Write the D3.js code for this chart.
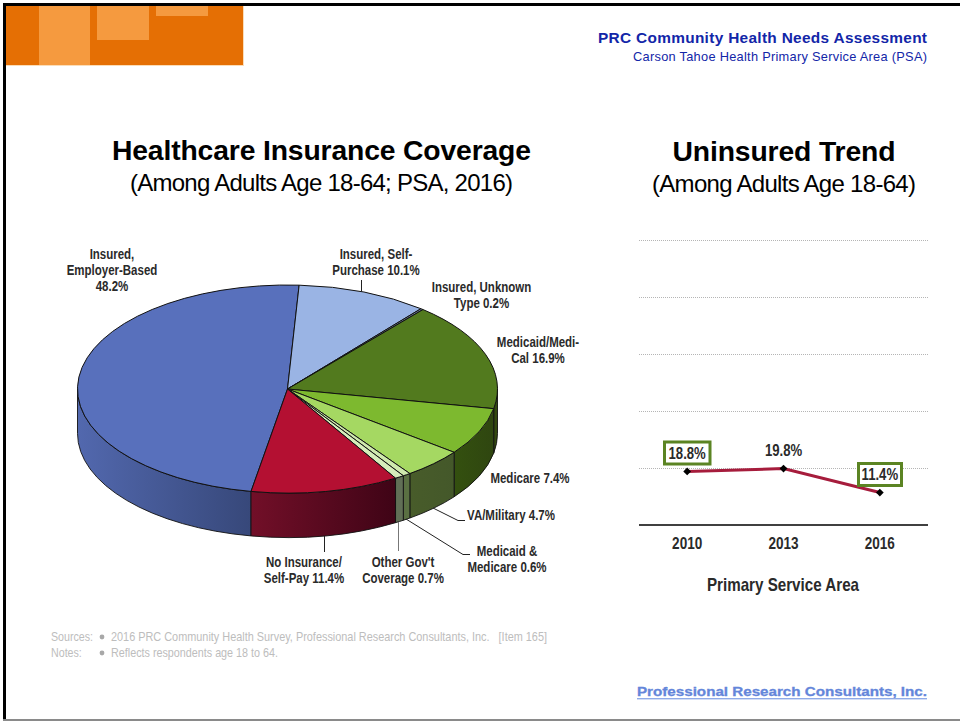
<!DOCTYPE html>
<html><head><meta charset="utf-8">
<script src="https://cdn.jsdelivr.net/npm/d3@7"></script>
<style>html,body{margin:0;padding:0;background:#fff;overflow:hidden}svg{display:block}</style>
</head><body><svg id="c" width="960" height="721"></svg>
<script>
// ---- data ----
const pieNames = ["Insured, Employer-Based","Insured, Self-Purchase","Insured, Unknown Type","Medicaid/Medi-Cal","Medicare","VA/Military","Medicaid & Medicare","Other Gov't Coverage","No Insurance/Self-Pay"];
const pieValues = [48.2,10.1,0.2,16.9,7.4,4.7,0.6,0.7,11.4];
const pieLabelLines = [["Insured,","Employer-Based","48.2%"],["Insured, Self-","Purchase 10.1%"],["Insured, Unknown","Type 0.2%"],["Medicaid/Medi-","Cal 16.9%"],["Medicare 7.4%"],["VA/Military 4.7%"],["Medicaid &","Medicare 0.6%"],["Other Gov't","Coverage 0.7%"],["No Insurance/","Self-Pay 11.4%"]];
const trendYears = ["2010","2013","2016"];
const trendValues = [18.8,19.8,11.4];
const trendTicks = [0,20,40,60,80,100];

// ---- styles and layout ----
const topColors = ["#5870BC","#9AB4E4","#6F80A0","#527A1E","#7DB92F","#A5D862","#CFE9AE","#D6EDBA","#B41032"];
const wallFrom = ["#5268AE","#8FA5D0","#5F6F85","#33480F","#34500F","#485C2A","#5A7042","#616F56","#720F28"];
const wallTo = ["#37487A","#8FA5D0","#5F6F85","#33480F","#2F4610","#44582A","#5A7042","#616F56","#3F0416"];
const labelPos = [[112,259],[376,259],[481.5,292],[538,347],[530,483],[511,520],[507,556],[403,567],[304,567]];
const leaders = [
  {d:[[361.5,280],[361.5,292]],c:"#222"},
  {d:[[324.5,536],[324.5,552]],c:"#222"},
  {d:[[398.5,522],[398.5,551]],c:"#777"},
  {d:[[406,519],[463,554.5],[470,554.5]],c:"#222"},
  {d:[[433,508],[458,520.5],[465,520.5]],c:"#222"}
];
const sans = "'Liberation Sans',Arial,sans-serif";
const NARROW = 0.82; // Arial Narrow is Arial condensed to this share of its width
const svg = d3.select("#c");
const defs = svg.append("defs");

// ---- page furniture ----
svg.append("rect").attr("x",6).attr("y",6).attr("width",238).attr("height",60).attr("fill","#FBDDB8");
svg.append("rect").attr("x",6).attr("y",6).attr("width",237).attr("height",59).attr("fill","#E56F04");
[[39,6,51,59],[97,6,52,34],[156,6,52,10]].forEach(r=>svg.append("rect").attr("x",r[0]).attr("y",r[1]).attr("width",r[2]).attr("height",r[3]).attr("fill","#F59A3F"));
svg.append("rect").attr("x",3).attr("y",3).attr("width",957).attr("height",3).attr("fill","#000");
svg.append("rect").attr("x",3).attr("y",3).attr("width",3).attr("height",718).attr("fill","#000");
svg.append("rect").attr("x",3).attr("y",719).attr("width",957).attr("height",2).attr("fill","#8a8a8a");

function condense(t){
  t.each(function(){
    const w=this.getComputedTextLength();
    d3.select(this).attr("textLength",w*NARROW).attr("lengthAdjust","spacingAndGlyphs");
  });
  return t;
}
function txt(x,y,s,o){
  const t = svg.append("text").attr("x",x).attr("y",y).text(s)
    .attr("font-family",sans).attr("font-size",o.s).attr("font-weight",o.w||"normal")
    .attr("fill",o.c||"#000").attr("text-anchor",o.a||"middle");
  if(o.len) t.attr("textLength",o.len).attr("lengthAdjust",o.adj||"spacing");
  else if(o.narrow) condense(t);
  return t;
}
txt(927,43,"PRC Community Health Needs Assessment",{s:15.4,w:"bold",c:"#1226A8",a:"end",len:329});
txt(927,61,"Carson Tahoe Health Primary Service Area (PSA)",{s:12.8,c:"#1226A8",a:"end",len:294});
txt(321.5,160,"Healthcare Insurance Coverage",{s:28.3,w:"bold",len:419});
txt(321.5,191,"(Among Adults Age 18-64; PSA, 2016)",{s:24,len:383});
txt(784,161,"Uninsured Trend",{s:28.3,w:"bold",len:223});
txt(784,192,"(Among Adults Age 18-64)",{s:24,len:264});
const noteC="#BDBDBD";
txt(51,641,"Sources:",{s:13,c:noteC,a:"start",narrow:true});
txt(111,641,"2016 PRC Community Health Survey, Professional Research Consultants, Inc.\u00A0\u00A0\u00A0[Item 165]",{s:13,c:noteC,a:"start",len:436,adj:"spacingAndGlyphs"});
txt(51,657,"Notes:",{s:13,c:noteC,a:"start",narrow:true});
txt(111,657,"Reflects respondents age 18 to 64.",{s:13,c:noteC,a:"start",len:167,adj:"spacingAndGlyphs"});
[637,653].forEach(yy=>svg.append("circle").attr("cx",102).attr("cy",yy).attr("r",2.4).attr("fill","#A8A8A8"));
txt(637,696,"Professional Research Consultants, Inc.",{s:12.5,w:"bold",c:"#6486DA",a:"start",len:290,adj:"spacingAndGlyphs"}).attr("stroke","#6486DA").attr("stroke-width",0.3);
svg.append("rect").attr("x",637).attr("y",698).attr("width",290).attr("height",1.4).attr("fill","#8FAAE8");

// ---- 3D pie ----
const cx=287.5, cy=389, rx=210, ry=104, depth=44.5;
const pieGen = d3.pie().sort(null).startAngle(190*Math.PI/180).endAngle(550*Math.PI/180);
const arcs = pieGen(pieValues);
const px=a=>cx+rx*Math.sin(a), py=a=>cy-ry*Math.cos(a);
const gWalls = svg.append("g"), gTop = svg.append("g").attr("transform",`translate(${cx},${cy}) scale(1,${ry/rx})`);
const arcGen = d3.arc().innerRadius(0).outerRadius(rx);
const HALF=Math.PI/2;
function wallPath(a0,a1){
  return `M${px(a0)},${py(a0)}A${rx},${ry} 0 0 1 ${px(a1)},${py(a1)}L${px(a1)},${py(a1)+depth}A${rx},${ry} 0 0 0 ${px(a0)},${py(a0)+depth}Z`;
}
arcs.forEach((d,i)=>{
  // the front of the rim runs from 90 to 270 degrees clockwise from the top, on either turn
  [0,2*Math.PI].forEach(off=>{
    const a0=Math.max(d.startAngle,HALF+off), a1=Math.min(d.endAngle,3*HALF+off);
    if(a1<=a0) return;
    const id="w"+i+(off?"b":"a");
    const g=defs.append("linearGradient").attr("id",id);
    g.append("stop").attr("offset",0).attr("stop-color",wallFrom[i]);
    g.append("stop").attr("offset",1).attr("stop-color",wallTo[i]);
    gWalls.append("path").attr("d",wallPath(a0,a1)).attr("fill",`url(#${id})`).attr("stroke","#111").attr("stroke-width",0.9).attr("stroke-linejoin","round");
  });
});
gTop.selectAll("path").data(arcs).join("path")
  .attr("d",arcGen).attr("fill",(d,i)=>topColors[i]).attr("stroke","#111").attr("stroke-width",1)
  .attr("stroke-linejoin","round").attr("vector-effect","non-scaling-stroke");

// leaders and labels
const lineGen=d3.line();
leaders.forEach(l=>svg.append("path").attr("d",lineGen(l.d)).attr("fill","none").attr("stroke",l.c).attr("stroke-width",1));
pieLabelLines.forEach((lines,i)=>lines.forEach((s,j)=>{
  txt(labelPos[i][0],labelPos[i][1]+j*16.2,s,{s:14,w:"bold",c:"#2a2a2a",narrow:true});
}));

// ---- trend line ----
const x=d3.scaleBand().domain(trendYears).range([639,928]);
const y=d3.scaleLinear().domain([0,100]).range([525,240]);
const xc=d=>x(d)+x.bandwidth()/2;
const gGrid=svg.append("g").attr("transform","translate(639,0)").call(d3.axisLeft(y).tickValues(trendTicks.slice(1)).tickSize(-289).tickFormat(""));
gGrid.select(".domain").remove();
gGrid.selectAll(".tick line").attr("stroke","#b5b5b5").attr("stroke-dasharray","1,1");
const gX=svg.append("g").attr("transform","translate(0,525)").call(d3.axisBottom(x).tickSize(0).tickPadding(12));
gX.select(".domain").attr("stroke","#000").attr("stroke-width",1.5).attr("d","M639,0H928");
gX.selectAll("text").attr("font-family",sans).attr("font-size",16.5).attr("font-weight","bold").attr("fill","#2a2a2a");
condense(gX.selectAll("text"));
const line=d3.line().x((d,i)=>xc(trendYears[i])).y(d=>y(d));
svg.append("path").attr("d",line(trendValues)).attr("fill","none").attr("stroke","#A61C3C").attr("stroke-width",3);
svg.selectAll(".pt").data(trendValues).join("path").attr("class","pt")
  .attr("transform",(d,i)=>`translate(${xc(trendYears[i])},${y(d)}) rotate(45)`)
  .attr("d",d3.symbol(d3.symbolSquare,30)).attr("fill","#000");
const boxes=[{b:[664.5,442,45.5,22]},{b:[858.5,463.5,43,22]}];
boxes.forEach(o=>svg.append("rect").attr("x",o.b[0]).attr("y",o.b[1]).attr("width",o.b[2]).attr("height",o.b[3]).attr("fill","#fff").attr("stroke","#5B8423").attr("stroke-width",3));
const labelBase=[458.5,456,480];
trendValues.forEach((v,i)=>txt(xc(trendYears[i]),labelBase[i],v.toFixed(1)+"%",{s:16,w:"bold",c:"#2a2a2a",narrow:true}));
txt(783,591,"Primary Service Area",{s:18.5,w:"bold",c:"#2a2a2a",narrow:true});
</script></body></html>
